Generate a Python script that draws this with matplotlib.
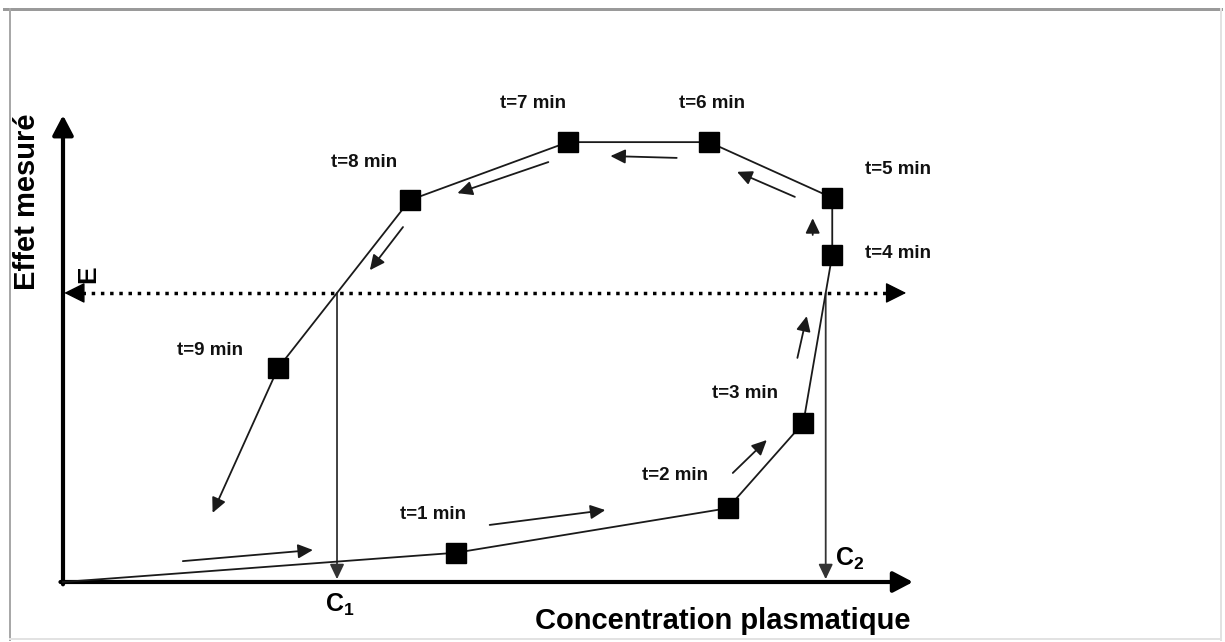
import matplotlib
matplotlib.use("Agg")
import matplotlib.pyplot as plt
from matplotlib.lines import Line2D

plt.rcParams['font.family'] = ['Liberation Sans', 'DejaVu Sans']
plt.rcParams['mathtext.fontset'] = 'custom'
plt.rcParams['mathtext.default'] = 'bf'
plt.rcParams['mathtext.bf'] = 'Liberation Sans:bold'
plt.rcParams['mathtext.rm'] = 'Liberation Sans:bold'

# === data (arbitrary units) ===
times = [1, 2, 3, 4, 5, 6, 7, 8, 9]
conc = [46.2, 78.2, 87.1, 90.5, 90.5, 76.0, 59.4, 40.8, 25.3]
effect = [6.3, 15.9, 34.3, 70.5, 82.8, 94.8, 94.8, 82.3, 46.1]
E_level = 62.3
tail_end = (17.6, 14.9)   # where the t=9 segment keeps going

# little arrows showing the direction of the loop: (c0, e0, c1, e1)
dir_arrows = [
    (14.1, 4.5, 29.4, 6.9),
    (50.2, 12.3, 63.8, 15.5),
    (78.8, 23.5, 82.8, 30.6),
    (86.4, 48.3, 87.5, 57.3),
    (88.2, 74.8, 88.2, 78.4),
    (86.1, 83.0, 79.3, 88.4),
    (72.2, 91.4, 64.4, 91.8),
    (57.1, 90.5, 46.4, 83.8),
    (40.0, 76.5, 36.1, 67.2),
]

# label offsets from each point, in pixels
label_dx = [-23, -53, -58, 66, 66, 3, -35, -46, -68]
label_dy = [38, 33, 29, 1, 28, 39, 39, 38, 18]

# === figure ===
PX_X, PX_Y = 8.5, 4.64      # pixels per unit
ORIG_X, ORIG_Y = 63, 582    # origin in pixels (from top left)
W, H = 1225, 642

fig = plt.figure(figsize=(W / 100, H / 100), dpi=100)
ax = fig.add_axes([0, 0, 1, 1])
ax.set_xlim(-ORIG_X / PX_X, (W - ORIG_X) / PX_X)
ax.set_ylim(-(H - ORIG_Y) / PX_Y, ORIG_Y / PX_Y)
ax.axis('off')

# grey frame around the picture
frame = [((4, 9), (1221, 9), '#9a9a9a', 3),
         ((10, 9), (10, 640), '#a8a8a8', 2),
         ((1221, 9), (1221, 640), '#e2e2e2', 2),
         ((10, 639), (1221, 639), '#e2e2e2', 2)]
for (x0, y0), (x1, y1), col, w in frame:
    fig.add_artist(Line2D([x0 / W, x1 / W], [1 - y0 / H, 1 - y1 / H],
                          color=col, lw=w * 0.72, transform=fig.transFigure))


def arrow(x0, y0, x1, y1, lw=1.3, hl=9, hw=4.3, color='black'):
    ax.annotate('', xy=(x1, y1), xytext=(x0, y0),
                arrowprops=dict(arrowstyle=f'-|>,head_length={hl},head_width={hw}',
                                mutation_scale=1, lw=lw, color=color,
                                shrinkA=0, shrinkB=0))


# axes
arrow(-0.3, 0, 100, 0, lw=3, hl=12, hw=6.3)
arrow(0, -0.5, 0, 100.6, lw=3, hl=12, hw=6.3)

# E level, dotted with arrowheads on both ends
ax.plot([2.2, 97.3], [E_level, E_level], color='black', lw=2.5,
        linestyle=(0, (1, 1.65)), dash_capstyle='butt')
arrow(2.4, E_level, 0.15, E_level, lw=1, hl=13, hw=6.5)
arrow(97.0, E_level, 99.2, E_level, lw=1, hl=13, hw=6.5)


def cross(i, j):
    f = (E_level - effect[i]) / (effect[j] - effect[i])
    return conc[i] + f * (conc[j] - conc[i])


C1 = cross(8, 7)
C2 = cross(2, 3)
arrow(C1, E_level, C1, 0.6, lw=1.3, color='#333333')
arrow(C2, E_level, C2, 0.6, lw=1.3, color='#333333')

# the loop
ax.plot([0] + conc, [0] + effect, color='#1a1a1a', lw=1.3, zorder=3)
arrow(conc[-1], effect[-1], tail_end[0], tail_end[1], color='#1a1a1a')
ax.plot(conc, effect, 's', color='black', ms=14.5, zorder=4)

for c0, e0, c1, e1 in dir_arrows:
    arrow(c0, e0, c1, e1, color='#1a1a1a')

for t, c, e, dx, dy in zip(times, conc, effect, label_dx, label_dy):
    ax.annotate(f't={t} min', xy=(c, e), xytext=(dx, dy),
                textcoords='offset pixels', ha='center', va='center',
                fontsize=13.5, fontweight='bold', color='#111111')

# labels
ax.annotate('Effet mesuré', xy=(0, 0), xytext=(27.5 - ORIG_X, ORIG_Y - 202),
            textcoords='offset pixels', rotation=90, ha='center', va='center',
            fontsize=21, fontweight='bold')
ax.annotate('Concentration plasmatique', xy=(0, 0), xytext=(723 - ORIG_X, ORIG_Y - 621),
            textcoords='offset pixels', ha='center', va='center',
            fontsize=21, fontweight='bold')
ax.annotate('E', xy=(0, E_level), xytext=(25, 19), textcoords='offset pixels',
            rotation=90, ha='center', va='center', fontsize=19, fontweight='bold')
ax.annotate(r'C$_1$', xy=(C1, 0), xytext=(3, -23), textcoords='offset pixels',
            ha='center', va='center', fontsize=18, fontweight='bold')
ax.annotate(r'C$_2$', xy=(C2, 0), xytext=(24, 23), textcoords='offset pixels',
            ha='center', va='center', fontsize=18, fontweight='bold')

fig.savefig('out.png', dpi=100)
